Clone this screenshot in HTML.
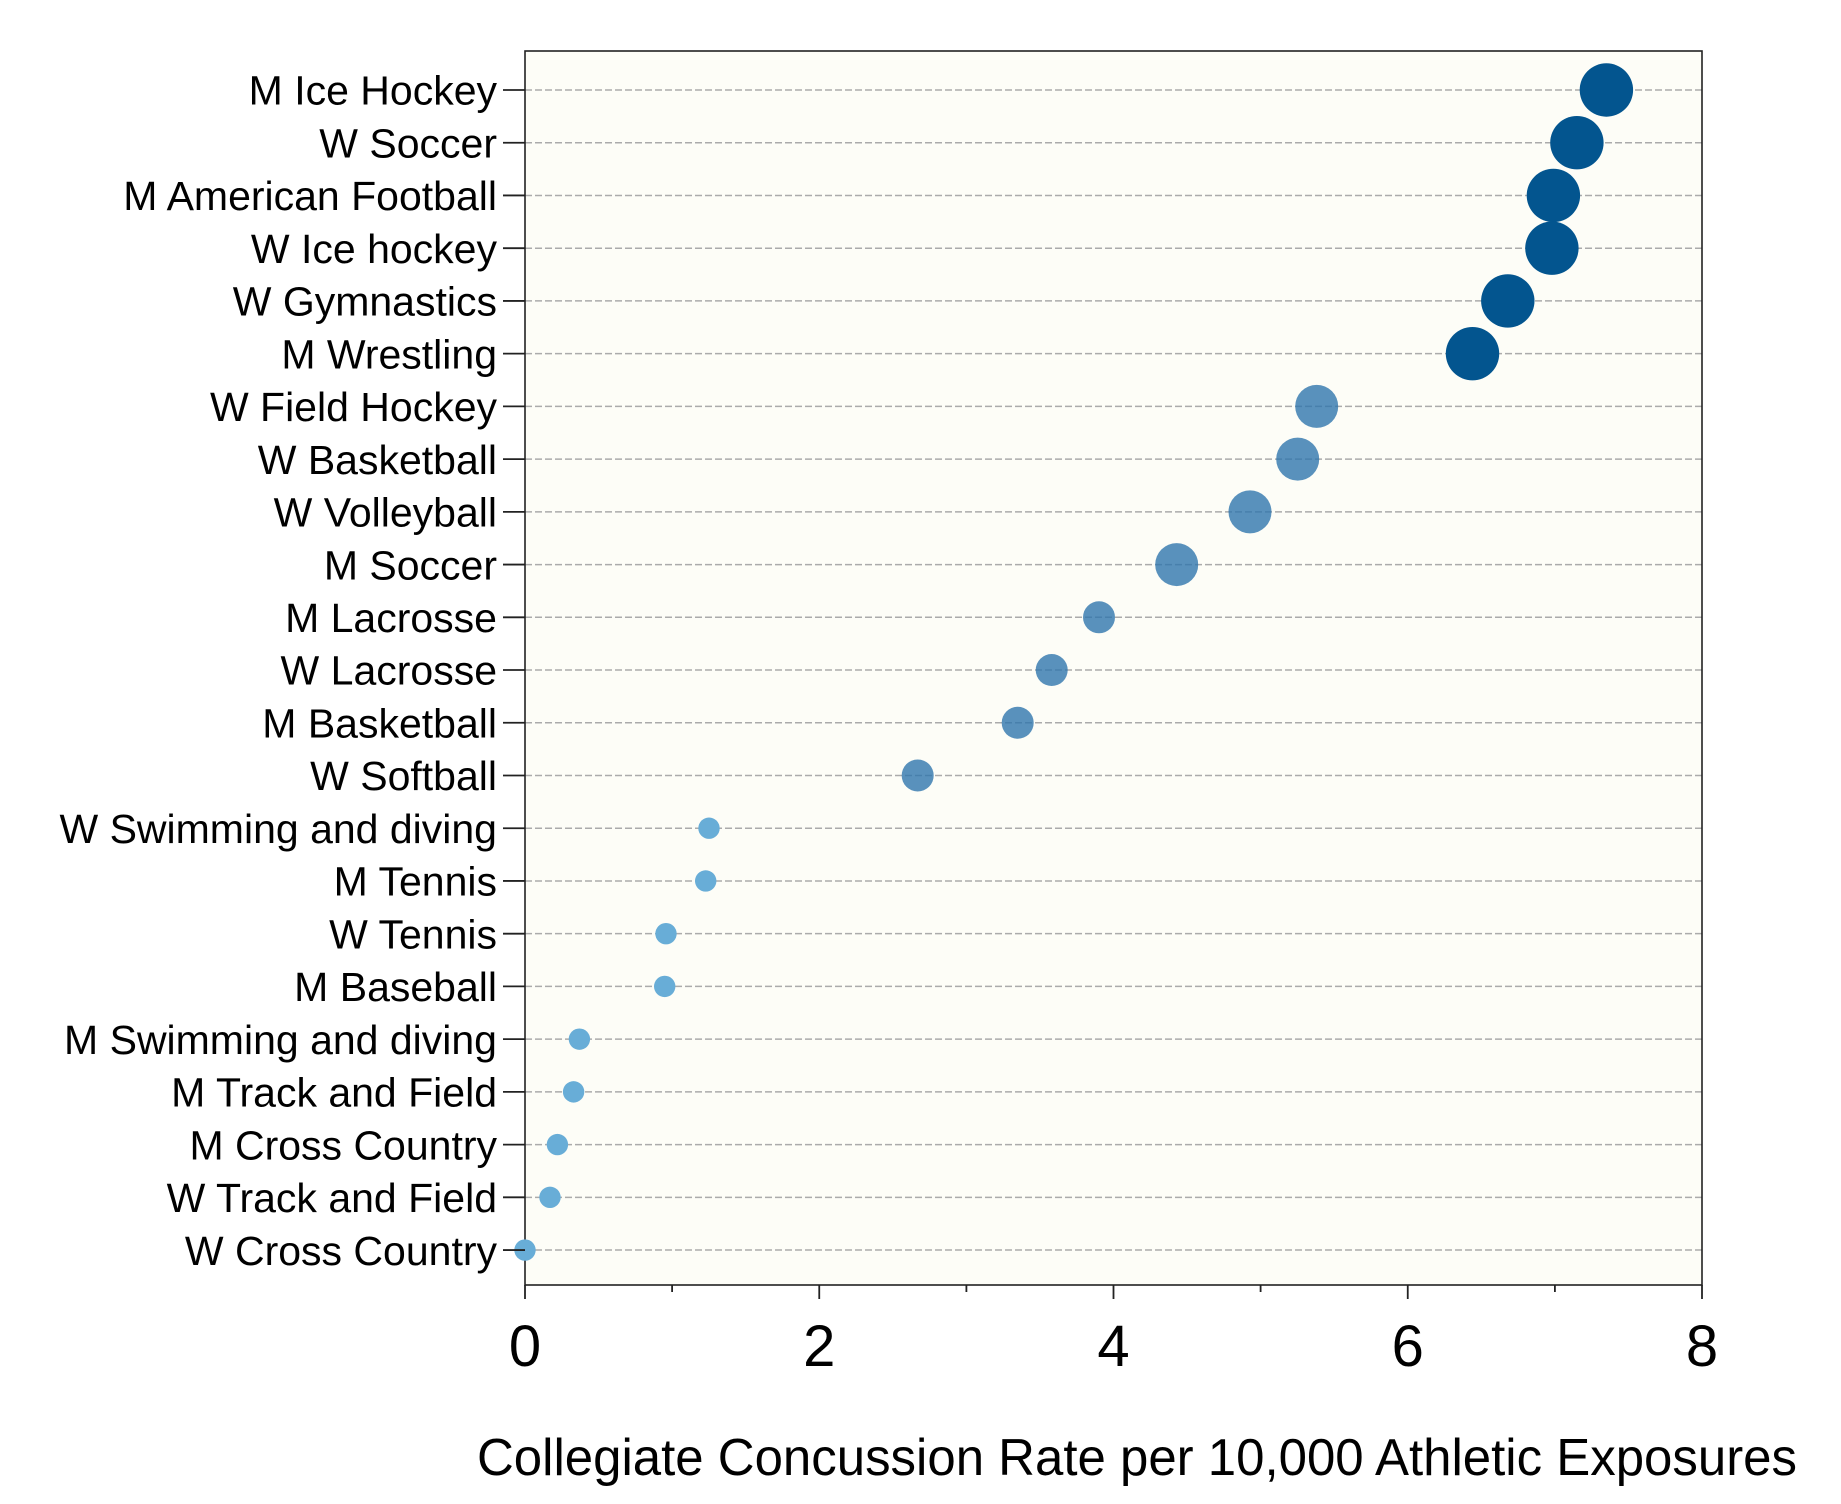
<!DOCTYPE html>
<html>
<head>
<meta charset="utf-8">
<style>
html,body{margin:0;padding:0;background:#ffffff;}
svg{display:block;}
text{font-family:"Liberation Sans", Arial, sans-serif;fill:#000;}
</style>
</head>
<body>
<svg width="1841" height="1504" viewBox="0 0 1841 1504" xmlns="http://www.w3.org/2000/svg">
<rect x="0" y="0" width="1841" height="1504" fill="#ffffff"/>
<rect x="525" y="51" width="1177" height="1234" fill="#fdfdf7"/>
<g stroke="#ababab" stroke-width="1.5" stroke-dasharray="7 3">
<line x1="525" x2="1702" y1="90" y2="90"/>
<line x1="525" x2="1702" y1="142.73" y2="142.73"/>
<line x1="525" x2="1702" y1="195.46" y2="195.46"/>
<line x1="525" x2="1702" y1="248.19" y2="248.19"/>
<line x1="525" x2="1702" y1="300.92" y2="300.92"/>
<line x1="525" x2="1702" y1="353.65" y2="353.65"/>
<line x1="525" x2="1702" y1="406.38" y2="406.38"/>
<line x1="525" x2="1702" y1="459.11" y2="459.11"/>
<line x1="525" x2="1702" y1="511.84" y2="511.84"/>
<line x1="525" x2="1702" y1="564.57" y2="564.57"/>
<line x1="525" x2="1702" y1="617.3" y2="617.3"/>
<line x1="525" x2="1702" y1="670.03" y2="670.03"/>
<line x1="525" x2="1702" y1="722.76" y2="722.76"/>
<line x1="525" x2="1702" y1="775.49" y2="775.49"/>
<line x1="525" x2="1702" y1="828.22" y2="828.22"/>
<line x1="525" x2="1702" y1="880.95" y2="880.95"/>
<line x1="525" x2="1702" y1="933.68" y2="933.68"/>
<line x1="525" x2="1702" y1="986.41" y2="986.41"/>
<line x1="525" x2="1702" y1="1039.14" y2="1039.14"/>
<line x1="525" x2="1702" y1="1091.87" y2="1091.87"/>
<line x1="525" x2="1702" y1="1144.6" y2="1144.6"/>
<line x1="525" x2="1702" y1="1197.33" y2="1197.33"/>
<line x1="525" x2="1702" y1="1250.06" y2="1250.06"/>
</g>
<rect x="525" y="51" width="1177" height="1234" fill="none" stroke="#222" stroke-width="1.6"/>
<g fill="#03558f">
<circle cx="1606.4" cy="90" r="26.7"/>
<circle cx="1576.9" cy="142.73" r="26.7"/>
<circle cx="1553.4" cy="195.46" r="26.7"/>
<circle cx="1551.9" cy="248.19" r="26.7"/>
<circle cx="1507.8" cy="300.92" r="26.7"/>
<circle cx="1472.5" cy="353.65" r="26.7"/>
</g>
<g fill="#2f75ac" fill-opacity="0.8">
<circle cx="1316.7" cy="406.38" r="21.5"/>
<circle cx="1297.7" cy="459.11" r="21.5"/>
<circle cx="1250" cy="511.84" r="21.5"/>
<circle cx="1176.7" cy="564.57" r="21.5"/>
<circle cx="1099" cy="617.3" r="16"/>
<circle cx="1051.7" cy="670.03" r="16"/>
<circle cx="1017.7" cy="722.76" r="16"/>
<circle cx="917.7" cy="775.49" r="16"/>
</g>
<g fill="#68add7">
<circle cx="709" cy="828.22" r="10.7"/>
<circle cx="705.7" cy="880.95" r="10.7"/>
<circle cx="666" cy="933.68" r="10.7"/>
<circle cx="664.7" cy="986.41" r="10.7"/>
<circle cx="579.4" cy="1039.14" r="10.7"/>
<circle cx="573.6" cy="1091.87" r="10.7"/>
<circle cx="557.4" cy="1144.6" r="10.7"/>
<circle cx="550" cy="1197.33" r="10.7"/>
<circle cx="525" cy="1250.06" r="10.7"/>
</g>
<g stroke="#222" stroke-width="1.8">
<line x1="503" x2="525" y1="90" y2="90"/>
<line x1="503" x2="525" y1="142.73" y2="142.73"/>
<line x1="503" x2="525" y1="195.46" y2="195.46"/>
<line x1="503" x2="525" y1="248.19" y2="248.19"/>
<line x1="503" x2="525" y1="300.92" y2="300.92"/>
<line x1="503" x2="525" y1="353.65" y2="353.65"/>
<line x1="503" x2="525" y1="406.38" y2="406.38"/>
<line x1="503" x2="525" y1="459.11" y2="459.11"/>
<line x1="503" x2="525" y1="511.84" y2="511.84"/>
<line x1="503" x2="525" y1="564.57" y2="564.57"/>
<line x1="503" x2="525" y1="617.3" y2="617.3"/>
<line x1="503" x2="525" y1="670.03" y2="670.03"/>
<line x1="503" x2="525" y1="722.76" y2="722.76"/>
<line x1="503" x2="525" y1="775.49" y2="775.49"/>
<line x1="503" x2="525" y1="828.22" y2="828.22"/>
<line x1="503" x2="525" y1="880.95" y2="880.95"/>
<line x1="503" x2="525" y1="933.68" y2="933.68"/>
<line x1="503" x2="525" y1="986.41" y2="986.41"/>
<line x1="503" x2="525" y1="1039.14" y2="1039.14"/>
<line x1="503" x2="525" y1="1091.87" y2="1091.87"/>
<line x1="503" x2="525" y1="1144.6" y2="1144.6"/>
<line x1="503" x2="525" y1="1197.33" y2="1197.33"/>
<line x1="503" x2="525" y1="1250.06" y2="1250.06"/>
</g>
<g stroke="#222" stroke-width="1.8">
<line x1="525" x2="525" y1="1285" y2="1299"/>
<line x1="819.25" x2="819.25" y1="1285" y2="1299"/>
<line x1="1113.5" x2="1113.5" y1="1285" y2="1299"/>
<line x1="1407.75" x2="1407.75" y1="1285" y2="1299"/>
<line x1="1702" x2="1702" y1="1285" y2="1299"/>
<line x1="672.1" x2="672.1" y1="1285" y2="1292"/>
<line x1="966.4" x2="966.4" y1="1285" y2="1292"/>
<line x1="1260.6" x2="1260.6" y1="1285" y2="1292"/>
<line x1="1554.9" x2="1554.9" y1="1285" y2="1292"/>
</g>
<g font-size="41" text-anchor="end">
<text x="497" y="104.7">M Ice Hockey</text>
<text x="497" y="157.43">W Soccer</text>
<text x="497" y="210.16">M American Football</text>
<text x="497" y="262.89">W Ice hockey</text>
<text x="497" y="315.62">W Gymnastics</text>
<text x="497" y="368.35">M Wrestling</text>
<text x="497" y="421.08">W Field Hockey</text>
<text x="497" y="473.81">W Basketball</text>
<text x="497" y="526.54">W Volleyball</text>
<text x="497" y="579.27">M Soccer</text>
<text x="497" y="632">M Lacrosse</text>
<text x="497" y="684.73">W Lacrosse</text>
<text x="497" y="737.46">M Basketball</text>
<text x="497" y="790.19">W Softball</text>
<text x="497" y="842.92">W Swimming and diving</text>
<text x="497" y="895.65">M Tennis</text>
<text x="497" y="948.38">W Tennis</text>
<text x="497" y="1001.11">M Baseball</text>
<text x="497" y="1053.84">M Swimming and diving</text>
<text x="497" y="1106.57">M Track and Field</text>
<text x="497" y="1159.3">M Cross Country</text>
<text x="497" y="1212.03">W Track and Field</text>
<text x="497" y="1264.76">W Cross Country</text>
</g>
<g font-size="58" text-anchor="middle">
<text x="525" y="1366">0</text>
<text x="819.25" y="1366">2</text>
<text x="1113.5" y="1366">4</text>
<text x="1407.75" y="1366">6</text>
<text x="1702" y="1366">8</text>
</g>
<text x="477" y="1475" font-size="52" textLength="1320" lengthAdjust="spacingAndGlyphs">Collegiate Concussion Rate per 10,000 Athletic Exposures</text>
</svg>
</body>
</html>
